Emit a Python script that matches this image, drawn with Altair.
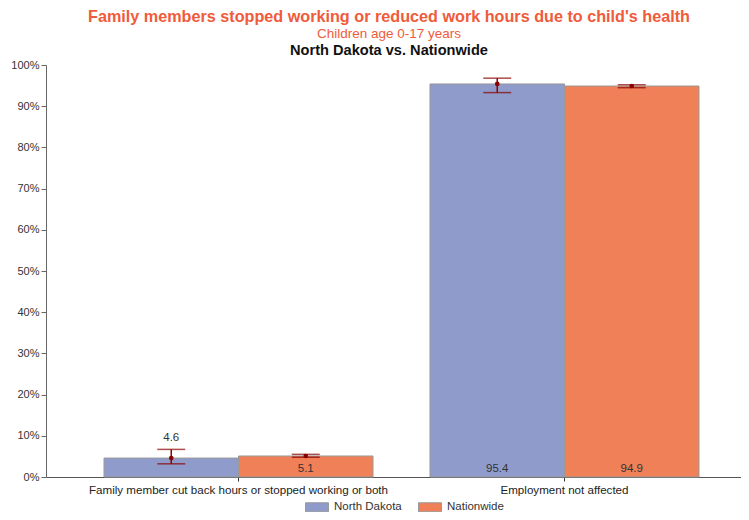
import altair as alt
import pandas as pd

categories = ["Family member cut back hours or stopped working or both", "Employment not affected"]
series = ["North Dakota", "Nationwide"]
nd_values = [4.6, 95.4]
nd_lo = [3.2, 93.3]
nd_hi = [6.7, 96.8]
nw_values = [5.1, 94.9]
nw_lo = [4.8, 94.5]
nw_hi = [5.5, 95.2]

title_line1 = "Family members stopped working or reduced work hours due to child's health"
title_line2 = "Children age 0-17 years"
title_line3 = "North Dakota vs. Nationwide"

rows = []
for i, c in enumerate(categories):
    rows.append({"cat": c, "series": series[0], "value": nd_values[i], "lo": nd_lo[i], "hi": nd_hi[i]})
    rows.append({"cat": c, "series": series[1], "value": nw_values[i], "lo": nw_lo[i], "hi": nw_hi[i]})
df = pd.DataFrame(rows)

colors = ["#8F9CCB", "#F08057"]
err_color = "#8B0000"

base = alt.Chart(df).encode(
    x=alt.X("cat:N", sort=categories, title=None,
            scale=alt.Scale(paddingInner=0.1748, paddingOuter=0.1534, align=0.58),
            axis=alt.Axis(labelAngle=0, labelFontSize=11.6, labelColor="#222", labelPadding=3,
                          tickSize=4, tickColor="#333", domainColor="#555", labelLimit=400,
                          grid=False)),
    xOffset=alt.XOffset("series:N", sort=series, scale=alt.Scale(paddingInner=0, paddingOuter=0)),
)

yscale = alt.Scale(domain=[0, 100])
yaxis = alt.Axis(values=list(range(0, 101, 10)), labelExpr="datum.value + '%'",
                 labelFontSize=11, labelColor="#333", tickSize=5, labelPadding=2,
                 domainColor="#666", tickColor="#666", grid=False)

bars = base.mark_bar(stroke="#999999", strokeWidth=1).encode(
    y=alt.Y("value:Q", scale=yscale, title=None, axis=yaxis),
    color=alt.Color("series:N", sort=series, scale=alt.Scale(domain=series, range=colors),
                    legend=alt.Legend(title=None, orient="none", direction="horizontal",
                                      legendX=259, legendY=430,
                                      symbolType="M-1,-0.39H1V0.39H-1Z", symbolSize=529,
                                      symbolStrokeColor="#999999", symbolStrokeWidth=1,
                                      symbolOpacity=1, labelFontSize=11.5, labelColor="#333",
                                      labelOffset=5, columnPadding=14)),
)

rules = base.mark_rule(color=err_color, strokeWidth=1.5).encode(
    y=alt.Y("lo:Q", scale=yscale, title=None, axis=yaxis), y2="hi:Q")
caps_hi = base.mark_tick(color=err_color, size=28, thickness=1.5, orient="horizontal").encode(
    y=alt.Y("hi:Q", scale=yscale, title=None, axis=yaxis))
caps_lo = base.mark_tick(color=err_color, size=28, thickness=1.5, orient="horizontal").encode(
    y=alt.Y("lo:Q", scale=yscale, title=None, axis=yaxis))
points = base.mark_circle(color=err_color, size=22, opacity=1).encode(
    y=alt.Y("value:Q", scale=yscale, title=None, axis=yaxis))

labels_bottom = base.transform_filter("datum.lo * 4.12 >= 16").mark_text(
    fontSize=11.5, color="#333", baseline="middle", dy=-8, font="Liberation Sans").encode(
    y=alt.datum(0), text=alt.Text("value:Q", format=".1f"))
labels_top = base.transform_filter("datum.lo * 4.12 < 16").mark_text(
    fontSize=11.5, color="#333", baseline="middle", dy=-11, font="Liberation Sans").encode(
    y=alt.Y("hi:Q", scale=yscale, title=None, axis=yaxis), text=alt.Text("value:Q", format=".1f"))

t1 = alt.Chart(pd.DataFrame({"t": [title_line1]})).mark_text(
    fontSize=16.2, fontWeight="bold", color="#EF5B3B", font="Liberation Sans").encode(
    text="t:N", x=alt.value(343), y=alt.value(-48))
t2 = alt.Chart(pd.DataFrame({"t": [title_line2]})).mark_text(
    fontSize=13.5, color="#EF5B3B", font="Liberation Sans").encode(
    text="t:N", x=alt.value(343), y=alt.value(-31))
t3 = alt.Chart(pd.DataFrame({"t": [title_line3]})).mark_text(
    fontSize=14.6, fontWeight="bold", color="#111", font="Liberation Sans").encode(
    text="t:N", x=alt.value(343), y=alt.value(-14))

chart = alt.layer(bars, rules, caps_hi, caps_lo, points, labels_bottom, labels_top, t1, t2, t3).properties(
    width=695, height=412,
    autosize=alt.AutoSizeParams(type="none"),
    padding={"left": 38, "top": 57, "right": 0, "bottom": 35},
    view=alt.ViewBackground(stroke="transparent", strokeWidth=0, strokeOpacity=0),
).configure(font="Liberation Sans").configure_view(
    strokeWidth=0, stroke="transparent", strokeOpacity=0
).configure_axis(grid=False, gridColor="transparent", gridOpacity=0).configure_axisTop(
    domain=False, ticks=False, labels=False
)

chart.save("out.html", embed_options={"renderer": "svg", "actions": False})
